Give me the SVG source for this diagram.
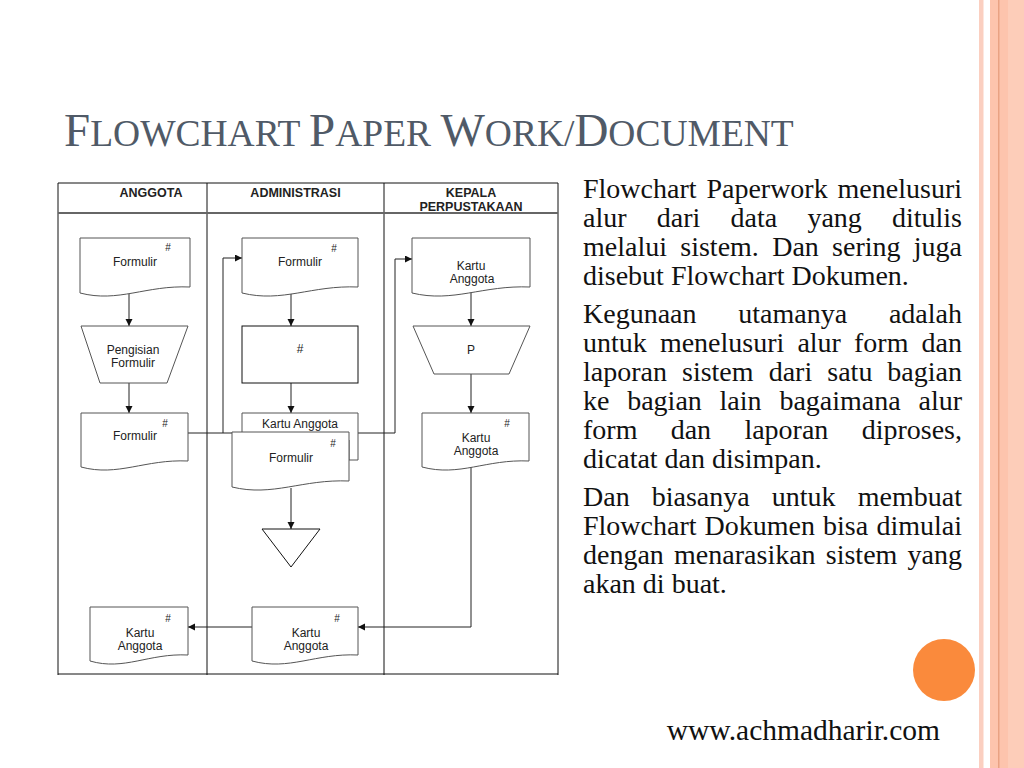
<svg xmlns="http://www.w3.org/2000/svg" width="1024" height="768" viewBox="0 0 1024 768">
<style>
.tbl{stroke:#111;stroke-width:1;fill:none}
.hdr{font-family:"Liberation Sans",Arial,sans-serif;font-weight:bold;font-size:12.5px;fill:#222;text-anchor:middle}
.lbl{font-family:"Liberation Sans",Arial,sans-serif;font-size:12px;fill:#222;text-anchor:middle}
.hash{font-family:"Liberation Sans",Arial,sans-serif;font-size:10px;fill:#222;text-anchor:middle}
.doc{fill:#fff;stroke:#555;stroke-width:1}
.shp{fill:#fff;stroke:#111;stroke-width:1}
.con{fill:none;stroke:#222;stroke-width:1}
.arr{marker-end:url(#ah)}
.body{font-family:"Liberation Serif","Times New Roman",serif;font-size:28px;fill:#111}
.title{font-family:"Liberation Serif","Times New Roman",serif;fill:#505a67}
</style>
<defs>
<marker id="ah" markerUnits="userSpaceOnUse" markerWidth="8" markerHeight="8" refX="7" refY="3.5" orient="auto">
<path d="M0,0 L7,3.5 L0,7 Z" fill="#111"/>
</marker>
</defs>
<rect x="0" y="0" width="1024" height="768" fill="#fff"/>
<g id="stripes">
<rect x="979" y="0" width="4.5" height="768" fill="#fbcfc0"/>
<rect x="990" y="0" width="18" height="768" fill="#fdc4ad"/>
<rect x="998" y="0" width="1.5" height="768" fill="#e9a283"/>
<rect x="1008" y="0" width="16" height="768" fill="#fdcdb9"/>
</g>
<circle cx="944" cy="670" r="31" fill="#fa8a3c"/>
<text class="title" x="64" y="146"><tspan font-size="47">F</tspan><tspan font-size="37.5">LOWCHART </tspan><tspan font-size="47">P</tspan><tspan font-size="37.5">APER </tspan><tspan font-size="47">W</tspan><tspan font-size="37.5">ORK/</tspan><tspan font-size="47">D</tspan><tspan font-size="37.5">OCUMENT</tspan></text>
<g id="table">
<path class="tbl" d="M58,183 H558 M58,674 H558 M58,183 V675 M207,183 V675 M384,183 V675 M558,183 V675"/>
<path d="M58,213 H558" stroke="#666" stroke-width="2" fill="none"/>
<text class="hdr" x="151" y="197">ANGGOTA</text>
<text class="hdr" x="295.5" y="197">ADMINISTRASI</text>
<text class="hdr" x="471" y="197">KEPALA</text>
<text class="hdr" x="471" y="211">PERPUSTAKAAN</text>
</g>
<g id="connectors">
<path class="con arr" d="M129,294 V326"/>
<path class="con arr" d="M129,383 V413"/>
<path class="con" d="M188,433 H232"/>
<path class="con arr" d="M223,433 V258 H242"/>
<path class="con arr" d="M291,293 V326"/>
<path class="con arr" d="M291,383 V413"/>
<path class="con arr" d="M291,488 V529"/>
<path class="con arr" d="M358,433 H395 V259 H412"/>
<path class="con arr" d="M471,292 V326"/>
<path class="con arr" d="M471,374 V413"/>
<path class="con arr" d="M471,466 V627 H358"/>
<path class="con arr" d="M252,627 H188"/>
</g>
<g id="a-formulir1">
<path class="doc" d="M80,238 H190 V287 C146,285 118.5,303 80,293 Z"/>
<text class="lbl" x="135" y="266">Formulir</text>
<text class="hash" x="168" y="251">#</text>
</g>
<g id="a-pengisian">
<path class="doc" d="M81,326 H188 L167,383 H100 Z"/>
<text class="lbl" x="133" y="354">Pengisian</text>
<text class="lbl" x="133" y="367">Formulir</text>
</g>
<g id="a-formulir2">
<path class="doc" d="M81,413 H188 V461 C145,459 118,477 81,467 Z"/>
<text class="lbl" x="135" y="440">Formulir</text>
<text class="hash" x="165" y="427">#</text>
</g>
<g id="b-formulir">
<path class="doc" d="M242,238 H358 V287 C311.6,285 282.6,303 242,293 Z"/>
<text class="lbl" x="300" y="266">Formulir</text>
<text class="hash" x="334" y="252">#</text>
</g>
<g id="b-proses">
<rect class="shp" x="242" y="326" width="116" height="57"/>
<text class="lbl" x="300" y="353">#</text>
</g>
<g id="b-kartu-formulir">
<path class="doc" d="M242,413 H358 V460 H349 V440 H242 Z"/>
<text class="lbl" x="300" y="428">Kartu Anggota</text>
<path class="doc" d="M232,432 H349 V481 C302.2,479 273,497 232,487 Z"/>
<text class="lbl" x="291" y="462">Formulir</text>
<text class="hash" x="333" y="447">#</text>
</g>
<g id="b-arsip">
<path class="shp" d="M262,529 H320 L291,567 Z"/>
</g>
<g id="c-kartu1">
<path class="doc" d="M412,238 H530 V287 C482.8,285 453.3,303 412,293 Z"/>
<text class="lbl" x="471" y="270">Kartu</text>
<text class="lbl" x="472" y="283">Anggota</text>
</g>
<g id="c-p">
<path class="doc" d="M413,326 H530 L509,374 H434 Z"/>
<text class="lbl" x="471" y="354">P</text>
</g>
<g id="c-kartu2">
<path class="doc" d="M422,413 H529 V461 C486.2,459 459.5,477 422,467 Z"/>
<text class="lbl" x="476" y="442">Kartu</text>
<text class="lbl" x="476" y="455">Anggota</text>
<text class="hash" x="507" y="427">#</text>
</g>
<g id="b-kartu3">
<path class="doc" d="M252,607 H358 V655 C315.6,653 289.1,671 252,661 Z"/>
<text class="lbl" x="306" y="637">Kartu</text>
<text class="lbl" x="306" y="650">Anggota</text>
<text class="hash" x="337" y="622">#</text>
</g>
<g id="a-kartu">
<path class="doc" d="M90,607 H188 V655 C148.8,653 124.3,671 90,661 Z"/>
<text class="lbl" x="140" y="637">Kartu</text>
<text class="lbl" x="140" y="650">Anggota</text>
<text class="hash" x="168" y="622">#</text>
</g>
<g id="bodytext" class="body">
<text y="198"><tspan x="583">Flowchart</tspan><tspan x="706.4">Paperwork</tspan><tspan x="962" text-anchor="end">menelusuri</tspan></text>
<text y="227"><tspan x="583">alur</tspan><tspan x="656.8">dari</tspan><tspan x="730.5">data</tspan><tspan x="807.4">yang</tspan><tspan x="962" text-anchor="end">ditulis</tspan></text>
<text y="256"><tspan x="583">melalui</tspan><tspan x="680.3">sistem.</tspan><tspan x="772.2">Dan</tspan><tspan x="832.1">sering</tspan><tspan x="962" text-anchor="end">juga</tspan></text>
<text y="285" x="583">disebut Flowchart Dokumen.</text>
<text y="323"><tspan x="583">Kegunaan</tspan><tspan x="738.3">utamanya</tspan><tspan x="962" text-anchor="end">adalah</tspan></text>
<text y="352"><tspan x="583">untuk</tspan><tspan x="659.9">menelusuri</tspan><tspan x="797.4">alur</tspan><tspan x="854">form</tspan><tspan x="962" text-anchor="end">dan</tspan></text>
<text y="381"><tspan x="583">laporan</tspan><tspan x="682">sistem</tspan><tspan x="768.7">dari</tspan><tspan x="827.3">satu</tspan><tspan x="962" text-anchor="end">bagian</tspan></text>
<text y="410"><tspan x="583">ke</tspan><tspan x="627.2">bagian</tspan><tspan x="719.6">lain</tspan><tspan x="779.4">bagaimana</tspan><tspan x="962" text-anchor="end">alur</tspan></text>
<text y="439"><tspan x="583">form</tspan><tspan x="670.7">dan</tspan><tspan x="744.4">laporan</tspan><tspan x="962" text-anchor="end">diproses,</tspan></text>
<text y="468" x="583">dicatat dan disimpan.</text>
<text y="506"><tspan x="583">Dan</tspan><tspan x="651.7">biasanya</tspan><tspan x="771.8">untuk</tspan><tspan x="962" text-anchor="end">membuat</tspan></text>
<text y="535"><tspan x="583">Flowchart</tspan><tspan x="704.6">Dokumen</tspan><tspan x="823.1">bisa</tspan><tspan x="962" text-anchor="end">dimulai</tspan></text>
<text y="564"><tspan x="583">dengan</tspan><tspan x="674.1">menarasikan</tspan><tspan x="825.8">sistem</tspan><tspan x="962" text-anchor="end">yang</tspan></text>
<text y="593" x="583">akan di buat.</text>
</g>
<text class="body" x="940" y="740" text-anchor="end" font-size="29.5" style="font-size:29.5px">www.achmadharir.com</text>
</svg>
